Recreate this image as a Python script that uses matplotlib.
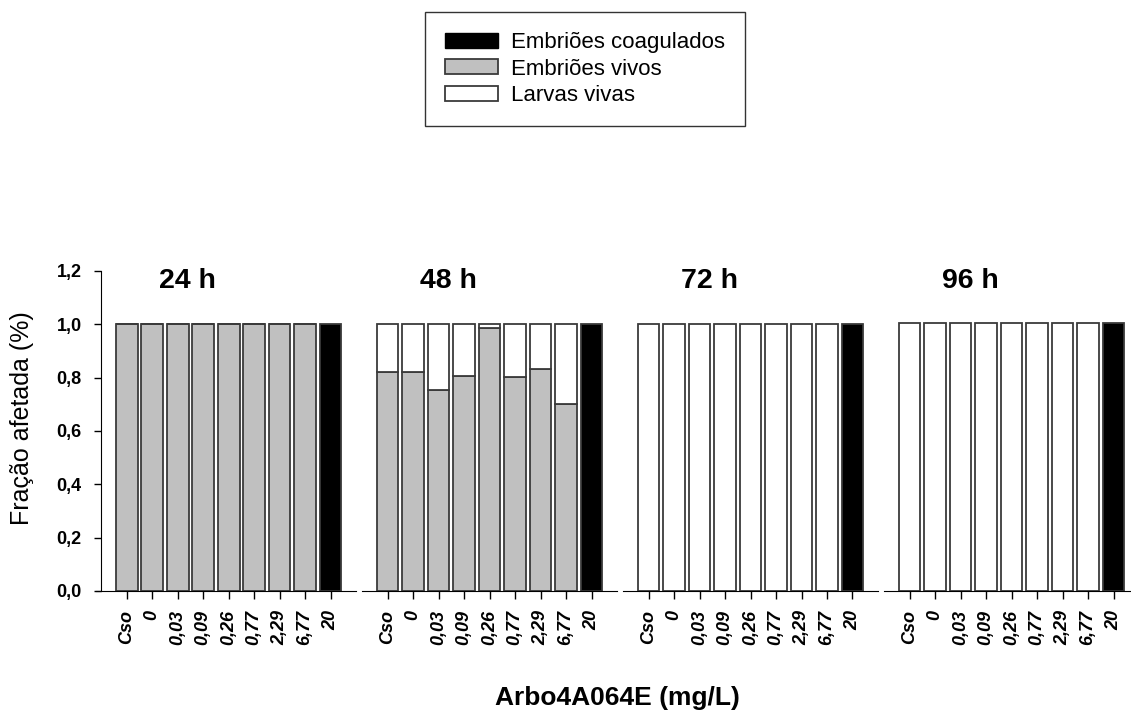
import numpy as np
import matplotlib

matplotlib.use('Agg')
import matplotlib.pyplot as plt
from matplotlib.patches import Patch

plt.rcParams['font.family'] = ['Liberation Sans', 'DejaVu Sans']

concs = ['Cso', '0', '0,03', '0,09', '0,26', '0,77', '2,29', '6,77', '20']
times = ['24 h', '48 h', '72 h', '96 h']

# fraction per category (first 8 concentrations), last bar (20 mg/L) is coagulated
vivos_emb = {
    '24 h': [1.0, 1.0, 1.0, 1.0, 1.0, 1.0, 1.0, 1.0],
    '48 h': [0.82, 0.82, 0.752, 0.808, 0.985, 0.804, 0.834, 0.70],
    '72 h': [0, 0, 0, 0, 0, 0, 0, 0],
    '96 h': [0, 0, 0, 0, 0, 0, 0, 0],
}
larvas = {
    '24 h': [0, 0, 0, 0, 0, 0, 0, 0],
    '48 h': [0.18, 0.18, 0.248, 0.192, 0.015, 0.196, 0.166, 0.30],
    '72 h': [1.0, 1.0, 1.0, 1.0, 1.0, 1.0, 1.0, 1.0],
    '96 h': [1.005, 1.005, 1.005, 1.005, 1.005, 1.005, 1.005, 1.005],
}
coagulados = {'24 h': 1.0, '48 h': 1.0, '72 h': 1.0, '96 h': 1.005}

W, H = 1131, 710
fig = plt.figure(figsize=(W / 100, H / 100), dpi=100)

grey = '#c0c0c0'
edge = '#3a3a3a'
bw = 0.86
ybot = (H - 591) / H
yh = (591 - 271) / H
lefts = [96, 362, 623, 884]
x = np.arange(len(concs))

for i, t in enumerate(times):
    if i == 0:
        ax = fig.add_axes([lefts[i] / W, ybot, 260 / W, yh])
        ax.set_xlim(-1.2, 9)
        ax.spines['left'].set_position(('data', -1))
    else:
        ax = fig.add_axes([lefts[i] / W, ybot, 255 / W, yh])
        ax.set_xlim(-1, 9)
        ax.spines['left'].set_visible(False)
        ax.set_yticks([])
    ax.set_ylim(0, 1.2)
    ax.spines['top'].set_visible(False)
    ax.spines['right'].set_visible(False)
    ax.patch.set_alpha(0)

    g = np.array(vivos_emb[t])
    w = np.array(larvas[t])
    ax.bar(x[:8], g, width=bw, color=grey, edgecolor=edge, linewidth=1.3)
    ax.bar(x[:8], w, bottom=g, width=bw, color='white', edgecolor=edge, linewidth=1.3)
    ax.bar(x[8], coagulados[t], width=bw, color='black', edgecolor=edge, linewidth=1.3)

    ax.set_xticks(x)
    ax.set_xticklabels(concs, rotation=90, fontsize=13, fontweight='bold', style='italic')
    ax.tick_params(axis='x', direction='out', length=6, width=1, pad=8)
    if i == 0:
        ax.set_yticks(np.arange(0, 1.21, 0.2))
        ax.set_yticklabels(['0,0', '0,2', '0,4', '0,6', '0,8', '1,0', '1,2'],
                           fontsize=13, fontweight='bold')
        ax.tick_params(axis='y', direction='out', length=5, width=1, pad=9)
    ax.text(2.4, 1.138, t, ha='center', va='baseline', fontsize=20.5, fontweight='bold')

fig.text(22 / W, (H - 418) / H, 'Fração afetada (%)', rotation=90, ha='center',
         va='center', fontsize=18)
fig.text(617 / W, (H - 698) / H, 'Arbo4A064E (mg/L)', ha='center', va='center',
         fontsize=19, fontweight='bold')

handles = [Patch(facecolor='black', edgecolor='black'),
           Patch(facecolor=grey, edgecolor=edge, linewidth=1.3),
           Patch(facecolor='white', edgecolor=edge, linewidth=1.3)]
leg = fig.legend(handles, ['Embriões coagulados', 'Embriões vivos', 'Larvas vivas'],
                 loc='upper left', bbox_to_anchor=(425 / W, (H - 12) / H),
                 borderaxespad=0, fontsize=16, frameon=True, fancybox=False,
                 edgecolor='black', handlelength=2.4, handleheight=0.65,
                 handletextpad=0.55, labelspacing=0.25, borderpad=0.9)
leg.get_frame().set_linewidth(1)

fig.savefig('out.png', dpi=100)
